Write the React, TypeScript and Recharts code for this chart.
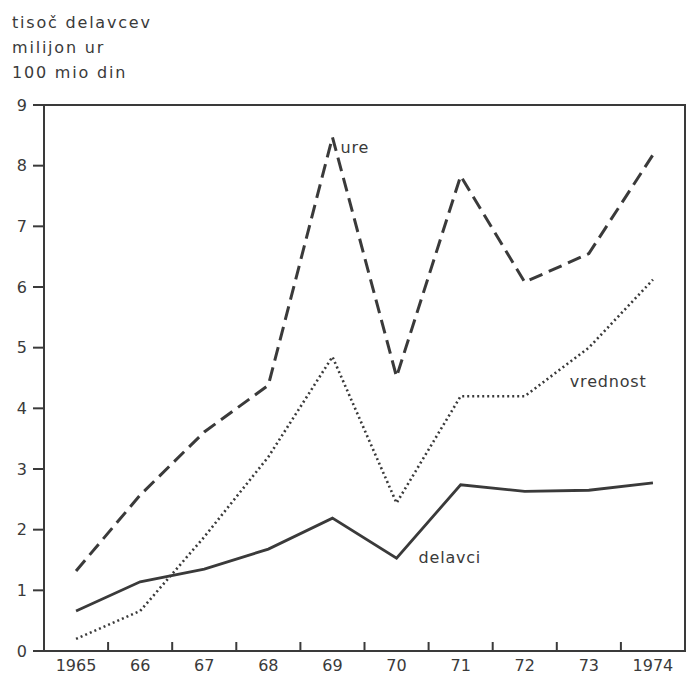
import React from 'react';
import { LineChart, Line, XAxis, YAxis, ReferenceArea } from 'recharts';

// years and tick labels
const years = ['1965', '66', '67', '68', '69', '70', '71', '72', '73', '1974'];
// milijon ur (dashed)
const ure = [1.32, 2.57, 3.61, 4.38, 8.47, 4.52, 7.83, 6.08, 6.55, 8.18];
// 100 mio din (dotted)
const vrednost = [0.2, 0.66, 1.88, 3.2, 4.85, 2.44, 4.2, 4.2, 5.0, 6.12];
// tisoč delavcev (solid)
const delavci = [0.66, 1.14, 1.35, 1.68, 2.19, 1.53, 2.74, 2.63, 2.65, 2.77];
const yTicks = [0, 1, 2, 3, 4, 5, 6, 7, 8, 9];
const headerLines = ['tisoč delavcev', 'milijon ur', '100 mio din'];

const data = years.map((y, i) => ({
  year: y,
  ure: ure[i],
  vrednost: vrednost[i],
  delavci: delavci[i],
}));

const INK = '#3a3a3a';
const FONT = '"DejaVu Sans", sans-serif';

// plot box
const PLOT_LEFT = 44;
const PLOT_RIGHT = 685;
const PLOT_TOP = 105;
const PLOT_BOTTOM = 651;
const HALF_BAND = (PLOT_RIGHT - PLOT_LEFT) / years.length / 2;

const XTick = (props: any) => {
  const { x, y, payload, index } = props;
  return (
    <g>
      <text x={x} y={y + 20} textAnchor="middle" fontSize={16} fill={INK} fontFamily={FONT}>
        {payload.value}
      </text>
      {index < years.length - 1 && (
        <line x1={x + HALF_BAND} x2={x + HALF_BAND} y1={y} y2={y - 9} stroke={INK} strokeWidth={2} />
      )}
    </g>
  );
};

// text label beside one point of a series
const seriesLabel = (text: string, at: number, dx: number, dy: number) => (props: any) => {
  const { x, y, index } = props;
  if (index !== at) return <g />;
  return (
    <text x={x + dx} y={y + dy} fontSize={16} fill={INK} fontFamily={FONT} letterSpacing={0.8}>
      {text}
    </text>
  );
};

export default function App() {
  return (
    <div style={{ position: 'absolute', left: 0, top: 0, width: 693, height: 675, background: '#fff' }}>
      {headerLines.map((t, i) => (
        <div
          key={t}
          style={{
            position: 'absolute',
            left: 12,
            top: 13 + i * 25,
            fontFamily: FONT,
            fontSize: 16,
            letterSpacing: 1.8,
            color: INK,
            lineHeight: '20px',
          }}
        >
          {t}
        </div>
      ))}
      <div style={{ position: 'absolute', left: 0, top: 0 }}>
        <LineChart
          width={693}
          height={675}
          data={data}
          margin={{ top: PLOT_TOP, right: 693 - PLOT_RIGHT, left: 0, bottom: 0 }}
        >
          <XAxis
            dataKey="year"
            height={675 - PLOT_BOTTOM}
            interval={0}
            padding={{ left: HALF_BAND, right: HALF_BAND }}
            tickLine={false}
            tickSize={0}
            tickMargin={0}
            tick={<XTick />}
            axisLine={{ stroke: INK, strokeWidth: 2 }}
          />
          {/* unpadded hidden axis spanning the full plot width, used for the frame */}
          <XAxis xAxisId="frame" dataKey="year" hide />
          <YAxis
            domain={[0, 9]}
            ticks={yTicks}
            width={PLOT_LEFT}
            interval={0}
            tickSize={11}
            tickMargin={6}
            tick={{ fontSize: 16, fill: INK, fontFamily: FONT }}
            tickLine={{ stroke: INK, strokeWidth: 2 }}
            axisLine={{ stroke: INK, strokeWidth: 2 }}
          />
          <ReferenceArea
            xAxisId="frame"
            y1={0}
            y2={9}
            fill="none"
            fillOpacity={0}
            stroke={INK}
            strokeWidth={2}
          />
          <Line
            dataKey="ure"
            stroke={INK}
            strokeWidth={3}
            strokeDasharray="14 7"
            dot={false}
            type="linear"
            isAnimationActive={false}
            label={seriesLabel('ure', 4, 8, 16)}
          />
          <Line
            dataKey="vrednost"
            stroke={INK}
            strokeWidth={2.6}
            strokeDasharray="2 3"
            dot={false}
            type="linear"
            isAnimationActive={false}
            label={seriesLabel('vrednost', 8, -19, 39)}
          />
          <Line
            dataKey="delavci"
            stroke={INK}
            strokeWidth={2.8}
            dot={false}
            type="linear"
            isAnimationActive={false}
            label={seriesLabel('delavci', 5, 22, 5)}
          />
        </LineChart>
      </div>
    </div>
  );
}
